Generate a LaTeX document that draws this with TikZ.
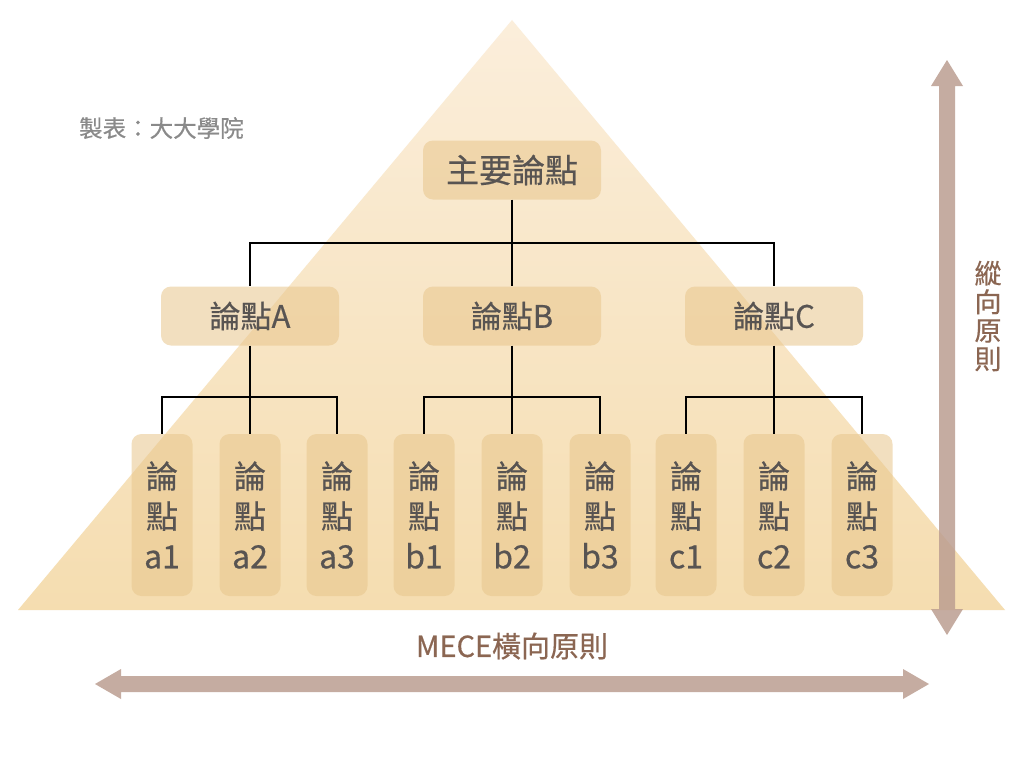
\documentclass[tikz,border=0pt]{standalone}
\usepackage{fontspec}
\setmainfont{Noto Sans CJK TC}[FakeBold=0.5]
\usetikzlibrary{arrows.meta}

\definecolor{sandtop}{RGB}{251,238,219}
\definecolor{sandbottom}{RGB}{245,221,176}
\definecolor{boxtan}{RGB}{232,198,140}
\definecolor{inkgray}{RGB}{88,84,82}
\definecolor{creditgray}{RGB}{138,138,138}
\definecolor{mauve}{RGB}{188,158,145}
\definecolor{rust}{RGB}{139,102,82}

\begin{document}
\begin{tikzpicture}[x=1pt, y=-1pt,
    point/.style={fill=boxtan, fill opacity=0.55, text opacity=1, text=inkgray, rounded corners=10pt,
        inner sep=0pt, minimum width=178pt, minimum height=59pt, font=\fontsize{31}{36}\selectfont},
    leaf/.style={point, minimum width=61pt, minimum height=162pt, align=center, font=\fontsize{32}{40}\selectfont},
    link/.style={line width=2pt},
    arrowfill/.style={fill=mauve, opacity=0.85}]
    \fill[white] (0,0) rectangle (1024,768);
    \useasboundingbox (0,0) rectangle (1024,768);

    % Pyramid
    \shade[top color=sandtop, bottom color=sandbottom] (512,20) -- (18,610) -- (1005,610) -- cycle;

    % Main point and sub-points
    \node[point] (main) at (512,170) {\fontsize{33}{38}\selectfont 主要論點};
    \node[point] (ptA) at (250,316) {論點A};
    \node[point] (ptB) at (512,316) {論點B};
    \node[point] (ptC) at (774,316) {論點C};

    % Leaves
    \node[leaf] (a1) at (162,515) {論\\點\\a1};
    \node[leaf] (a2) at (250,515) {論\\點\\a2};
    \node[leaf] (a3) at (337,515) {論\\點\\a3};
    \node[leaf] (b1) at (424,515) {論\\點\\b1};
    \node[leaf] (b2) at (512,515) {論\\點\\b2};
    \node[leaf] (b3) at (600,515) {論\\點\\b3};
    \node[leaf] (c1) at (686,515) {論\\點\\c1};
    \node[leaf] (c2) at (774,515) {論\\點\\c2};
    \node[leaf] (c3) at (862,515) {論\\點\\c3};

    % Tree lines
    \coordinate (busM) at (512,243);
    \coordinate (busA) at (250,397);
    \coordinate (busB) at (512,397);
    \coordinate (busC) at (774,397);
    \draw[link] (main.south) -- (busM) -- (ptB.north);
    \draw[link] (busM) -| (ptA.north);
    \draw[link] (busM) -| (ptC.north);
    \draw[link] (ptA.south) -- (busA) -- (a2.north);
    \draw[link] (busA) -| (a1.north);
    \draw[link] (busA) -| (a3.north);
    \draw[link] (ptB.south) -- (busB) -- (b2.north);
    \draw[link] (busB) -| (b1.north);
    \draw[link] (busB) -| (b3.north);
    \draw[link] (ptC.south) -- (busC) -- (c2.north);
    \draw[link] (busC) -| (c1.north);
    \draw[link] (busC) -| (c3.north);

    % Principle arrows
    \fill[arrowfill] (947,60) -- (963,86) -- (955,86) -- (955,609) -- (963,609) -- (947,635)
        -- (931,609) -- (939,609) -- (939,86) -- (931,86) -- cycle;
    \fill[arrowfill] (95,684) -- (121,669) -- (121,676) -- (903,676) -- (903,669) -- (929,684)
        -- (903,699) -- (903,692) -- (121,692) -- (121,699) -- cycle;

    % Labels
    \node[text=rust, align=center, font=\fontsize{27}{28.5}\selectfont] (vlabel) at (988,316) {縱\\向\\原\\則};
    \node[text=rust, font=\fontsize{29}{32}\selectfont] (hlabel) at (512,646) {MECE橫向原則};
    \node[text=creditgray, anchor=west, inner sep=0pt, font=\fontsize{23.5}{26}\selectfont] (credit) at (79,128) {製表：大大學院};
\end{tikzpicture}
\end{document}
